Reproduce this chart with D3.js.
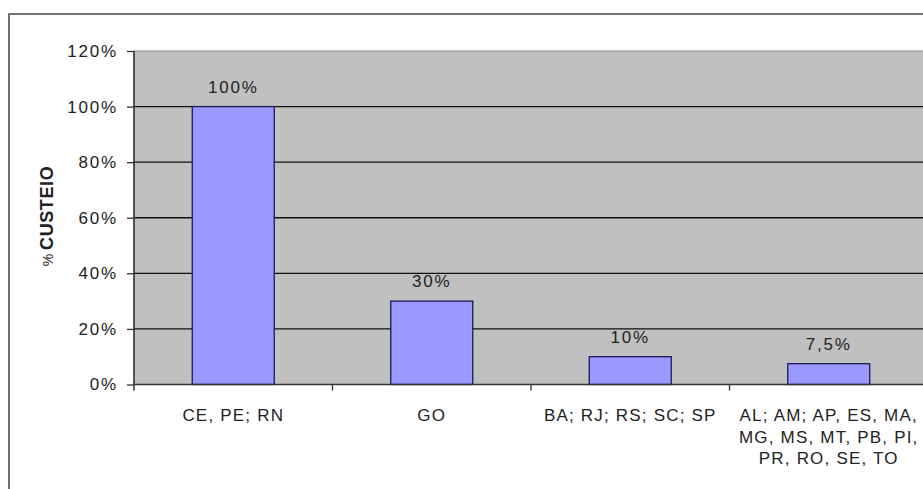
<!DOCTYPE html>
<html>
<head>
<meta charset="utf-8">
<script src="https://cdn.jsdelivr.net/npm/d3@7"></script>
<style>
  html, body { margin: 0; padding: 0; background: #fff; }
  svg { display: block; }
  text { font-family: "Liberation Sans", Arial, sans-serif; fill: #222; }
</style>
</head>
<body>
<svg id="chart" width="923" height="489"></svg>
<script>
// ---- data ----
const categories = [
  ["CE, PE; RN"],
  ["GO"],
  ["BA; RJ; RS; SC; SP"],
  ["AL; AM; AP, ES, MA,", "MG, MS, MT, PB, PI,", "PR, RO, SE, TO"]
];
const values = [100, 30, 10, 7.5];
const valueLabels = ["100%", "30%", "10%", "7,5%"];
const yTicks = [0, 20, 40, 60, 80, 100, 120];
const yTitlePrefix = "%";
const yTitle = "CUSTEIO";

// ---- layout ----
const svg = d3.select("#chart");
const plot = { left: 134, right: 928, top: 51, bottom: 384.5 };

// outer chart border
svg.append("rect")
  .attr("x", 9).attr("y", 14)
  .attr("width", 940).attr("height", 500)
  .attr("fill", "none").attr("stroke", "#444").attr("stroke-width", 1.5);

const keys = categories.map((c, i) => i);
const x = d3.scaleBand().domain(keys).range([plot.left, plot.right])
  .paddingInner(0.587).paddingOuter(0.2935);
const xCat = d3.scaleBand().domain(keys).range([plot.left, plot.right]).padding(0);
const y = d3.scaleLinear().domain([0, 120]).range([plot.bottom, plot.top]);

// plot background
svg.append("rect")
  .attr("x", plot.left).attr("y", plot.top)
  .attr("width", plot.right - plot.left).attr("height", plot.bottom - plot.top)
  .attr("fill", "#C0C0C0").attr("stroke", "#8a8a8a").attr("stroke-width", 1);

// gridlines
svg.append("g").selectAll("line")
  .data(yTicks.filter(t => t > 0 && t < 120))
  .join("line")
  .attr("x1", plot.left).attr("x2", plot.right)
  .attr("y1", d => y(d)).attr("y2", d => y(d))
  .attr("stroke", "#111").attr("stroke-width", 1.3);

// bars
svg.append("g").selectAll("rect")
  .data(values)
  .join("rect")
  .attr("x", (d, i) => x(i))
  .attr("width", x.bandwidth())
  .attr("y", d => y(d))
  .attr("height", d => y(0) - y(d))
  .attr("fill", "#9999FF")
  .attr("stroke", "#1a1a55").attr("stroke-width", 1.3);

// value labels
svg.append("g").selectAll("text")
  .data(values)
  .join("text")
  .attr("x", (d, i) => x(i) + x.bandwidth() / 2)
  .attr("y", d => y(d) - 14)
  .attr("text-anchor", "middle")
  .attr("font-size", 17)
  .attr("letter-spacing", 1.8)
  .text((d, i) => valueLabels[i]);

// y axis
const yAxis = d3.axisLeft(y).tickValues(yTicks).tickFormat(d => d + "%")
  .tickSize(7).tickPadding(9);
const gy = svg.append("g").attr("transform", `translate(${plot.left},0)`).call(yAxis);
gy.select(".domain").attr("stroke", "#333").attr("stroke-width", 1.5)
  .attr("d", `M0,${plot.top}V${plot.bottom + 6}`);
gy.selectAll(".tick line").attr("stroke", "#333").attr("stroke-width", 1.3);
gy.selectAll(".tick text")
  .attr("font-family", "Liberation Sans, Arial, sans-serif")
  .attr("font-size", 17).attr("letter-spacing", 1.8).attr("fill", "#222");

// x axis
const xAxis = d3.axisBottom(xCat).tickSize(0).tickFormat(() => "");
const gx = svg.append("g").attr("transform", `translate(0,${plot.bottom})`).call(xAxis);
gx.select(".domain").attr("stroke", "#333").attr("stroke-width", 1.5)
  .attr("d", `M${plot.left},0H${plot.right}`);
gx.selectAll(".tick").remove();
// category boundary ticks
gx.selectAll("line.sep")
  .data(keys.slice(1))
  .join("line").attr("class", "sep")
  .attr("x1", d => xCat(d)).attr("x2", d => xCat(d))
  .attr("y1", 0).attr("y2", 6)
  .attr("stroke", "#333").attr("stroke-width", 1.3);

// category labels
const catG = svg.append("g");
categories.forEach((lines, i) => {
  const t = catG.append("text")
    .attr("x", xCat(i) + xCat.bandwidth() / 2)
    .attr("y", 421)
    .attr("text-anchor", "middle")
    .attr("font-size", 17)
    .attr("letter-spacing", 1.2);
  lines.forEach((ln, j) => {
    t.append("tspan")
      .attr("x", xCat(i) + xCat.bandwidth() / 2)
      .attr("dy", j === 0 ? 0 : 21.5)
      .text(ln);
  });
});

// y title
const yt = svg.append("text")
  .attr("transform", `translate(53,216) rotate(-90)`)
  .attr("text-anchor", "middle")
  .attr("font-size", 18);
yt.append("tspan").attr("font-size", 14).text(yTitlePrefix + " ");
yt.append("tspan").attr("font-weight", "bold").attr("letter-spacing", 0.6).text(yTitle);
</script>
</body>
</html>
